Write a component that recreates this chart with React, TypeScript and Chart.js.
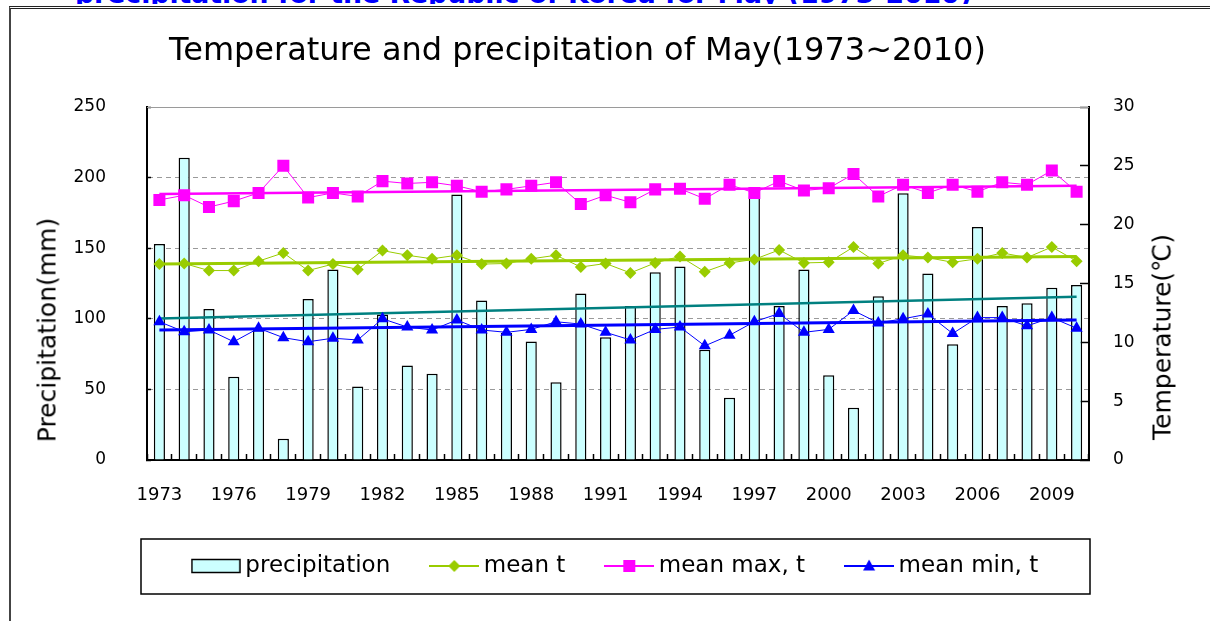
import React, { useEffect, useRef } from 'react';
import { Chart, registerables } from 'chart.js';

Chart.register(...registerables);

const years = [
  '1973', '1974', '1975', '1976', '1977', '1978', '1979', '1980', '1981', '1982',
  '1983', '1984', '1985', '1986', '1987', '1988', '1989', '1990', '1991', '1992',
  '1993', '1994', '1995', '1996', '1997', '1998', '1999', '2000', '2001', '2002',
  '2003', '2004', '2005', '2006', '2007', '2008', '2009', '2010',
];

const precipitation = [
  153, 214, 107, 59, 92, 15, 114, 135, 52, 103,
  67, 61, 188, 113, 90, 84, 55, 118, 87, 109,
  133, 137, 78, 44, 187, 109, 135, 60, 37, 116,
  189, 132, 82, 165, 109, 111, 122, 124,
];

const meanT = [
  16.65, 16.7, 16.1, 16.1, 16.9, 17.6, 16.1, 16.65, 16.2, 17.8,
  17.4, 17.1, 17.4, 16.65, 16.7, 17.1, 17.4, 16.4, 16.7, 15.9,
  16.75, 17.3, 16.0, 16.75, 17.05, 17.85, 16.75, 16.8, 18.1, 16.7,
  17.4, 17.2, 16.8, 17.1, 17.6, 17.2, 18.1, 16.9,
];

const meanMax = [
  22.1, 22.5, 21.5, 22.0, 22.7, 25.0, 22.3, 22.7, 22.4, 23.7,
  23.5, 23.6, 23.3, 22.8, 23.0, 23.3, 23.6, 21.75, 22.5, 21.9,
  23.0, 23.05, 22.2, 23.4, 22.7, 23.7, 22.9, 23.1, 24.3, 22.4,
  23.4, 22.7, 23.4, 22.8, 23.6, 23.4, 24.6, 22.8,
];

const meanMin = [
  11.75, 10.9, 11.05, 10.05, 11.2, 10.4, 10.05, 10.35, 10.2, 12.0,
  11.3, 11.05, 11.9, 11.05, 10.85, 11.1, 11.75, 11.55, 10.85, 10.2,
  11.1, 11.3, 9.7, 10.6, 11.75, 12.45, 10.85, 11.1, 12.7, 11.65,
  12.0, 12.4, 10.75, 12.1, 12.1, 11.4, 12.1, 11.2,
];

// trend lines: value at first year and last year
const precipTrend = [100.3, 115.6];
const meanTTrend = [16.65, 17.3];
const meanMaxTrend = [22.6, 23.3];
const meanMinTrend = [11.05, 11.9];

const legendNames = ['precipitation', 'mean t', 'mean max, t', 'mean min, t'];

const FONT = 'DejaVu Sans';
const GREEN = '#99CC00';
const MAGENTA = '#FF00FF';
const BLUE = '#0000FF';
const TEAL = '#008080';
const BAR = '#CCFFFF';

function trend(v: number[]) {
  return [
    { x: years[0], y: v[0] },
    { x: years[years.length - 1], y: v[1] },
  ];
}

function makeIcon(draw: (g: CanvasRenderingContext2D) => void) {
  const c = document.createElement('canvas');
  c.width = 50;
  c.height = 16;
  const g = c.getContext('2d') as CanvasRenderingContext2D;
  draw(g);
  return c;
}

function makeIcons() {
  const bar = makeIcon((g) => {
    g.fillStyle = BAR;
    g.fillRect(1, 1.5, 48, 13);
    g.strokeStyle = '#000';
    g.lineWidth = 1.5;
    g.strokeRect(1, 1.5, 48, 13);
  });
  const line = (color: string, marker: (g: CanvasRenderingContext2D) => void) =>
    makeIcon((g) => {
      g.strokeStyle = color;
      g.lineWidth = 2;
      g.beginPath();
      g.moveTo(0, 8);
      g.lineTo(50, 8);
      g.stroke();
      g.fillStyle = color;
      g.beginPath();
      marker(g);
      g.fill();
    });
  const diamond = line(GREEN, (g) => {
    g.moveTo(25, 2);
    g.lineTo(31, 8);
    g.lineTo(25, 14);
    g.lineTo(19, 8);
    g.closePath();
  });
  const square = line(MAGENTA, (g) => {
    g.rect(19, 2, 12, 12);
  });
  const tri = line(BLUE, (g) => {
    g.moveTo(25, 1.5);
    g.lineTo(31, 12.5);
    g.lineTo(19, 12.5);
    g.closePath();
  });
  return [bar, diamond, square, tri];
}

const LEGEND_PAD = 46;

const framePlugin = {
  id: 'framePlugin',
  afterDraw(chart: any) {
    const { ctx, chartArea: a, legend } = chart;
    ctx.save();
    ctx.strokeStyle = '#9a9a9a';
    ctx.lineWidth = 1;
    ctx.beginPath();
    ctx.moveTo(a.left, a.top + 0.5);
    ctx.lineTo(a.right, a.top + 0.5);
    ctx.stroke();
    if (legend) {
      const cy = legend.top + LEGEND_PAD + 11.5;
      ctx.strokeStyle = '#000';
      ctx.lineWidth = 1.5;
      ctx.strokeRect(a.left - 6, cy - 27, a.right - a.left + 7, 55);
    }
    ctx.restore();
  },
};

export default function App() {
  const ref = useRef<HTMLCanvasElement>(null);

  useEffect(() => {
    const canvas = ref.current;
    if (!canvas) return;
    const icons = makeIcons();

    const chart = new Chart(canvas, {
      type: 'bar',
      data: {
        labels: years,
        datasets: [
          {
            type: 'bar',
            label: legendNames[0],
            data: precipitation,
            yAxisID: 'y',
            backgroundColor: BAR,
            borderColor: '#000',
            borderWidth: 1.5,
            barPercentage: 0.45,
            categoryPercentage: 1,
            order: 3,
          } as any,
          {
            type: 'line',
            label: legendNames[1],
            data: meanT,
            yAxisID: 'y1',
            borderColor: GREEN,
            backgroundColor: GREEN,
            borderWidth: 1,
            pointStyle: 'rectRot',
            pointRadius: 6,
            pointBorderWidth: 0,
            pointBackgroundColor: GREEN,
            order: 1,
          },
          {
            type: 'line',
            label: legendNames[2],
            data: meanMax,
            yAxisID: 'y1',
            borderColor: MAGENTA,
            backgroundColor: MAGENTA,
            borderWidth: 1,
            pointStyle: 'rect',
            pointRadius: 8.5,
            pointBorderWidth: 0,
            pointBackgroundColor: MAGENTA,
            order: 1,
          },
          {
            type: 'line',
            label: legendNames[3],
            data: meanMin,
            yAxisID: 'y1',
            borderColor: BLUE,
            backgroundColor: BLUE,
            borderWidth: 1,
            pointStyle: 'triangle',
            pointRadius: 7,
            pointBorderWidth: 0,
            pointBackgroundColor: BLUE,
            order: 1,
          },
          {
            type: 'line',
            label: 'precipitation trend',
            data: trend(precipTrend) as any,
            yAxisID: 'y',
            borderColor: TEAL,
            borderWidth: 2.5,
            pointRadius: 0,
            order: 2,
          },
          {
            type: 'line',
            label: 'mean t trend',
            data: trend(meanTTrend) as any,
            yAxisID: 'y1',
            borderColor: GREEN,
            borderWidth: 3,
            pointRadius: 0,
            order: 2,
          },
          {
            type: 'line',
            label: 'mean max trend',
            data: trend(meanMaxTrend) as any,
            yAxisID: 'y1',
            borderColor: MAGENTA,
            borderWidth: 2.5,
            pointRadius: 0,
            order: 2,
          },
          {
            type: 'line',
            label: 'mean min trend',
            data: trend(meanMinTrend) as any,
            yAxisID: 'y1',
            borderColor: BLUE,
            borderWidth: 3,
            pointRadius: 0,
            order: 2,
          },
        ],
      },
      options: {
        responsive: false,
        animation: false,
        events: [],
        layout: { padding: { left: 0, right: 55, top: 0, bottom: 33.5 } },
        plugins: {
          tooltip: { enabled: false },
          title: {
            display: true,
            text: 'Temperature and precipitation of May(1973~2010)',
            color: '#000',
            font: { family: FONT, size: 32, weight: 'normal' },
            padding: { top: 32.8, bottom: 35.8 },
          },
          legend: {
            display: true,
            position: 'bottom',
            fullSize: false,
            labels: {
              usePointStyle: true,
              pointStyleWidth: 36,
              boxHeight: 16,
              padding: LEGEND_PAD,
              color: '#000',
              font: { family: FONT, size: 23 },
              generateLabels: () =>
                legendNames.map((t, i) => ({
                  text: t,
                  pointStyle: icons[i] as any,
                  fillStyle: 'rgba(0,0,0,0)',
                  strokeStyle: 'rgba(0,0,0,0)',
                  lineWidth: 0,
                  hidden: false,
                  datasetIndex: i,
                  fontColor: '#000',
                })),
            },
          },
        },
        scales: {
          x: {
            type: 'category',
            offset: true,
            grid: {
              display: true,
              offset: true,
              drawOnChartArea: false,
              drawTicks: true,
              tickLength: -6,
              tickColor: '#000',
              tickWidth: 1.5,
            },
            border: { display: true, color: '#000', width: 2 },
            ticks: {
              autoSkip: false,
              maxRotation: 0,
              minRotation: 0,
              padding: 30.5,
              color: '#000',
              font: { family: FONT, size: 18 },
              callback: (_v: any, i: number) => (i % 3 === 0 ? years[i] : ''),
            },
            afterFit: (s: any) => {
              s.height = 94.5 - LEGEND_PAD;
            },
          },
          y: {
            type: 'linear',
            position: 'left',
            min: 0,
            max: 250,
            grid: {
              color: (c: any) =>
                c.tick && (c.tick.value === 0 || c.tick.value === 250) ? 'rgba(0,0,0,0)' : '#9a9a9a',
              lineWidth: 1,
              drawTicks: true,
              tickLength: -4,
              tickColor: '#000',
              tickWidth: 1.5,
            },
            border: { display: true, color: '#000', width: 2, dash: [5, 4] },
            ticks: {
              stepSize: 50,
              padding: 45,
              color: '#000',
              font: { family: FONT, size: 17 },
            },
            afterFit: (s: any) => {
              s.width = 147;
            },
          },
          y1: {
            type: 'linear',
            position: 'right',
            min: 0,
            max: 30,
            grid: {
              drawOnChartArea: false,
              drawTicks: true,
              tickLength: -9,
              tickColor: '#000',
              tickWidth: 1.5,
            },
            border: { display: true, color: '#000', width: 2 },
            ticks: {
              stepSize: 5,
              padding: 33,
              color: '#000',
              font: { family: FONT, size: 17 },
            },
            afterFit: (s: any) => {
              s.width = 66;
            },
          },
        },
      } as any,
      plugins: [framePlugin],
    });

    return () => chart.destroy();
  }, []);

  const axisTitle: React.CSSProperties = {
    position: 'absolute',
    transform: 'translate(-50%, -50%) rotate(-90deg)',
    whiteSpace: 'nowrap',
    fontFamily: FONT,
    fontSize: 25,
    color: '#000',
    lineHeight: 'normal',
  };

  return (
    <div
      style={{
        position: 'absolute',
        left: 0,
        top: 0,
        width: 1210,
        height: 621,
        overflow: 'hidden',
        background: '#fff',
      }}
    >
      <div style={{ position: 'absolute', left: 0, top: 0, width: 1210, height: 4, overflow: 'hidden' }}>
        <div
          style={{
            position: 'absolute',
            left: 75,
            top: -21,
            whiteSpace: 'nowrap',
            fontFamily: FONT,
            fontWeight: 'bold',
            fontSize: 26.7,
            lineHeight: '30px',
            color: '#0000ff',
          }}
        >
          precipitation for the Republic of Korea for May (1973-2010)
        </div>
      </div>
      <div
        style={{
          position: 'absolute',
          left: 9,
          top: 6,
          width: 1201,
          height: 615,
          boxSizing: 'border-box',
          borderLeft: '2px solid #444',
          borderTop: '3px double #222',
        }}
      />
      <canvas ref={ref} width={1210} height={621} style={{ position: 'absolute', left: 0, top: 0 }} />
      <div style={{ ...axisTitle, left: 47, top: 329.5 }}>Precipitation(mm)</div>
      <div style={{ ...axisTitle, left: 1162, top: 337 }}>Temperature(℃)</div>
    </div>
  );
}
